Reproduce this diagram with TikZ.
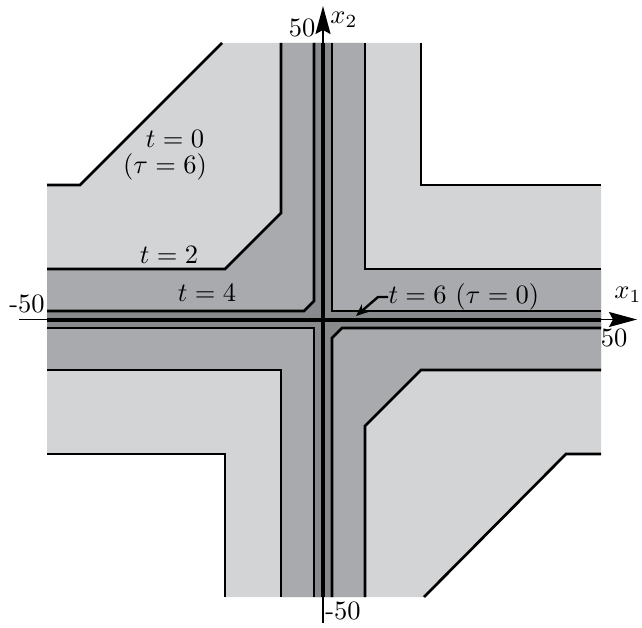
\documentclass[tikz,border=0pt]{standalone}
\usetikzlibrary{arrows.meta}
\definecolor{lightg}{HTML}{D3D4D6}
\definecolor{midg}{HTML}{A9AAAD}
\definecolor{darkg}{HTML}{898A8D}
\begin{document}
\begin{tikzpicture}[x=1pt,y=-1pt,
  contour/.style={line width=2.7pt, line join=miter},
  axisthin/.style={line width=1.8pt},
  axisthick/.style={line width=4pt},
  bigtip/.style={-{Stealth[length=28pt,width=15pt,inset=4pt]}},
  lab/.style={scale=2.65, inner sep=0pt}]
\useasboundingbox (0,0) rectangle (642,628);
% t = 0 region
\fill[lightg] (47,185) -- (80,185) -- (222,43) -- (421,43) -- (421,185) -- (601,185)
  -- (601,454) -- (566,454) -- (424,597) -- (225,597) -- (225,454) -- (47,454) -- cycle;
% t = 2 region
\fill[midg] (47,269) -- (225,269) -- (281,213) -- (281,43) -- (365,43) -- (365,269) -- (601,269)
  -- (601,370) -- (421,370) -- (365,426) -- (365,597) -- (281,597) -- (281,370) -- (47,370) -- cycle;
% t = 4 region
\fill[darkg] (47,311) -- (304,311) -- (314,301) -- (314,43) -- (332,43) -- (332,311) -- (601,311)
  -- (601,328) -- (342,328) -- (332,338) -- (332,597) -- (314,597) -- (314,328) -- (47,328) -- cycle;
% contours t = 0
\draw[contour] (47,185) -- (80,185) -- (222,43);
\draw[contour] (421,43) -- (421,185) -- (601,185);
\draw[contour] (601,454) -- (566,454) -- (424,597);
\draw[contour] (225,597) -- (225,454) -- (47,454);
% contours t = 2
\draw[contour] (47,269) -- (225,269) -- (281,213) -- (281,43);
\draw[contour] (365,43) -- (365,269) -- (601,269);
\draw[contour] (601,370) -- (421,370) -- (365,426) -- (365,597);
\draw[contour] (281,597) -- (281,370) -- (47,370);
% contours t = 4
\draw[contour] (47,311) -- (304,311) -- (314,301) -- (314,43);
\draw[contour] (332,43) -- (332,311) -- (601,311);
\draw[contour] (601,328) -- (342,328) -- (332,338) -- (332,597);
\draw[contour] (314,597) -- (314,328) -- (47,328);
% axes
\coordinate (xl) at (19,319.5);
\coordinate (xr) at (637,319.5);
\coordinate (xbl) at (47,319.5);
\coordinate (xbr) at (601,319.5);
\coordinate (yb) at (323,623);
\coordinate (yt) at (323,6);
\coordinate (ybb) at (323,597);
\coordinate (ybt) at (323,43);
\draw[axisthin, bigtip] (xl) -- (xr);
\draw[axisthin, bigtip] (yb) -- (yt);
\draw[axisthick] (xbl) -- (xbr);
\draw[axisthick] (ybb) -- (ybt);
% axis labels
\node[lab] (ytop) at (302,28) {50};
\node[lab] (x2) at (344,20) {$x_2$};
\node[lab] (xleft) at (27,304) {-50};
\node[lab] (x1) at (628,295) {$x_1$};
\node[lab] (xright) at (614,338) {50};
\node[lab] (ybot) at (343,611) {-50};
% contour labels
\node[lab] (l0) at (175,139) {$t=0$};
\node[lab] (l0b) at (165,167) {$(\tau=6)$};
\node[lab] (l2) at (169,255) {$t=2$};
\node[lab] (l4) at (207,293) {$t=4$};
\node[lab, anchor=west] (l6) at (388,297) {$t=6\ (\tau=0)$};
\coordinate (p6) at (356,316);
\draw[line width=2.4pt, -{Stealth[length=12pt,width=10pt]}] (l6.west) -- ++(-10,0) -- (p6);
\end{tikzpicture}
\end{document}
